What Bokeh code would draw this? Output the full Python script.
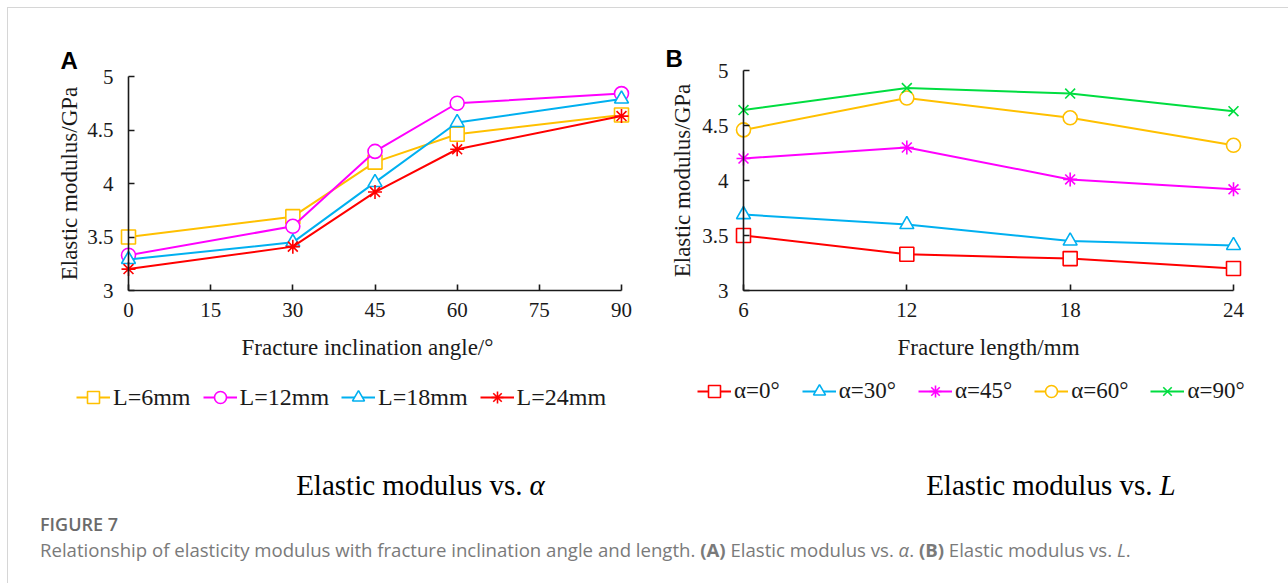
import math
from bokeh.plotting import figure
from bokeh.models import (Range1d, FixedTicker, NumeralTickFormatter, Label, Legend,
                          LegendItem, Div)
from bokeh.layouts import row, column
from bokeh.embed import file_html
from bokeh.resources import INLINE

# ---------------- data ----------------
angles = [0, 30, 45, 60, 90]
angle_ticks = [0, 15, 30, 45, 60, 75, 90]
L6 = [3.50, 3.69, 4.20, 4.46, 4.64]
L12 = [3.33, 3.60, 4.30, 4.75, 4.84]
L18 = [3.29, 3.45, 4.01, 4.57, 4.79]
L24 = [3.20, 3.41, 3.92, 4.32, 4.63]

lengths = [6, 12, 18, 24]
a0 = [3.50, 3.33, 3.29, 3.20]
a30 = [3.69, 3.60, 3.45, 3.41]
a45 = [4.20, 4.30, 4.01, 3.92]
a60 = [4.46, 4.75, 4.57, 4.32]
a90 = [4.64, 4.84, 4.79, 4.63]

modulus_ticks = [3, 3.5, 4, 4.5, 5]

series_A = [("L=6mm", L6, "#FFC000", "square"),
            ("L=12mm", L12, "#FF00FF", "circle"),
            ("L=18mm", L18, "#00B0F0", "triangle"),
            ("L=24mm", L24, "#FF0000", "asterisk")]
series_B = [("α=0°", a0, "#FF0000", "square"),
            ("α=30°", a30, "#00B0F0", "triangle"),
            ("α=45°", a45, "#FF00FF", "asterisk"),
            ("α=60°", a60, "#FFC000", "circle"),
            ("α=90°", a90, "#00DD40", "x")]

SERIF = "Liberation Serif"
SANS = "Liberation Sans"


def make_panel(width, height, l, r, t, b, xlo, xhi, ylo, yhi, xticks):
    # the frame fills the whole canvas; data extents land on pixels l..r, t..b
    kx = (r - l) / (xhi - xlo)
    ky = (b - t) / (yhi - ylo)
    p = figure(width=width, height=height, output_backend="svg", toolbar_location=None,
               title=None,
               x_range=Range1d(xlo - l / kx, xhi + (width - r) / kx),
               y_range=Range1d(ylo - (height - b) / ky, yhi + t / ky),
               min_border=0, min_border_left=0, min_border_right=0,
               min_border_top=0, min_border_bottom=0,
               outline_line_color=None, background_fill_color="white",
               border_fill_color="white", margin=0)
    p.grid.visible = False
    for ax in (p.xaxis[0], p.yaxis[0]):
        ax.axis_line_color = "#1a1a1a"
        ax.axis_line_width = 1.6
        ax.major_tick_line_color = "#1a1a1a"
        ax.major_tick_line_width = 1.6
        ax.major_tick_in = 6
        ax.major_tick_out = 0
        ax.minor_tick_line_color = None
        ax.major_label_text_font = SERIF
        ax.major_label_text_font_size = "21px"
        ax.major_label_text_color = "#1a1a1a"
    p.xaxis.ticker = FixedTicker(ticks=xticks)
    p.yaxis.ticker = FixedTicker(ticks=modulus_ticks)
    p.yaxis.formatter = NumeralTickFormatter(format="0.[0]")
    p.xaxis.fixed_location = ylo
    p.yaxis.fixed_location = xlo
    p.xaxis.bounds = (xlo, xhi)
    p.yaxis.bounds = (ylo, yhi)
    p.xaxis.major_label_standoff = 12
    p.yaxis.major_label_standoff = 15
    return p


def draw_series(p, xs, series):
    items = []
    for name, ys, color, marker in series:
        lr = p.line(xs, ys, line_color=color, line_width=2)
        sr = p.scatter(xs, ys, marker=marker, size=14, line_color=color, line_width=1.6,
                       fill_color="white")
        items.append(LegendItem(label=name, renderers=[lr, sr]))
    return items


def lab(p, ox, oy, h, gx, gy, text, **kw):
    p.add_layout(Label(x=gx - ox, y=h - (gy - oy), x_units="screen", y_units="screen",
                       text=text, **kw))


# ---------------- panel A ----------------
OXA, OYA, WA, HA = 8, 8, 636, 497
pa = make_panel(WA, HA, 128 - OXA, 621 - OXA, 76 - OYA, 290 - OYA, 0, 90, 3, 5, angle_ticks)
items_a = draw_series(pa, angles, series_A)


def lab_a(gx, gy, text, **kw):
    lab(pa, OXA, OYA, HA, gx, gy, text, **kw)


lab_a(60, 60, "A", text_font=SANS, text_font_style="bold", text_font_size="24px",
      text_baseline="alphabetic", text_align="left", text_color="black")
lab_a(69, 183, "Elastic modulus/GPa", angle=math.pi / 2, text_font=SERIF,
      text_font_size="23px", text_align="center", text_baseline="middle", text_color="#1a1a1a")
lab_a(367, 347, "Fracture inclination angle/°", text_font=SERIF, text_font_size="23px",
      text_align="center", text_baseline="middle", text_color="#1a1a1a")
lab_a(522, 484, "Elastic modulus vs.", text_font=SERIF, text_font_size="29px",
      text_align="right", text_baseline="alphabetic", text_color="black")
lab_a(529, 484, "α", text_font=SERIF, text_font_size="29px", text_font_style="italic",
      text_align="left", text_baseline="alphabetic", text_color="black")

leg_a = Legend(items=items_a, orientation="horizontal",
               location=(76 - OXA, HA - (397 + 15 - OYA)),
               glyph_width=34, glyph_height=30, label_height=30, label_standoff=3,
               spacing=12, padding=0, margin=0, border_line_color=None,
               background_fill_alpha=0, label_text_font=SERIF,
               label_text_font_size="24px", label_text_color="#1a1a1a")
pa.add_layout(leg_a)

# ---------------- panel B ----------------
OXB, OYB, WB, HB = 644, 8, 644, 497
pb = make_panel(WB, HB, 743 - OXB, 1233 - OXB, 70 - OYB, 290 - OYB, 6, 24, 3, 5, lengths)
items_b = draw_series(pb, lengths, series_B)


def lab_b(gx, gy, text, **kw):
    lab(pb, OXB, OYB, HB, gx, gy, text, **kw)


lab_b(665, 58, "B", text_font=SANS, text_font_style="bold", text_font_size="24px",
      text_baseline="alphabetic", text_align="left", text_color="black")
lab_b(682, 180, "Elastic modulus/GPa", angle=math.pi / 2, text_font=SERIF,
      text_font_size="23px", text_align="center", text_baseline="middle", text_color="#1a1a1a")
lab_b(988, 347, "Fracture length/mm", text_font=SERIF, text_font_size="23px",
      text_align="center", text_baseline="middle", text_color="#1a1a1a")
lab_b(1152, 484, "Elastic modulus vs.", text_font=SERIF, text_font_size="29px",
      text_align="right", text_baseline="alphabetic", text_color="black")
lab_b(1159, 484, "L", text_font=SERIF, text_font_size="29px", text_font_style="italic",
      text_align="left", text_baseline="alphabetic", text_color="black")

leg_b = Legend(items=items_b, orientation="horizontal",
               location=(697 - OXB, HB - (391 + 15 - OYB)),
               glyph_width=34, glyph_height=30, label_height=30, label_standoff=3,
               spacing=22, padding=0, margin=0, border_line_color=None,
               background_fill_alpha=0, label_text_font=SERIF,
               label_text_font_size="23px", label_text_color="#1a1a1a")
pb.add_layout(leg_b)

# ---------------- caption ----------------
cap_html = (
    '<div style="position:relative;width:1280px;height:78px;font-family:\'Open Sans\';">'
    '<div style="position:absolute;left:32px;top:7px;font-size:18px;line-height:normal;'
    'font-weight:600;color:#6b6b6b;white-space:nowrap;">FIGURE 7</div>'
    '<div style="position:absolute;left:32px;top:32px;font-size:18.6px;line-height:normal;'
    'color:#7a7a7a;white-space:nowrap;">Relationship of elasticity modulus with fracture '
    'inclination angle and length. <b>(A)</b> Elastic modulus vs. <i>α</i>. '
    '<b>(B)</b> Elastic modulus vs. <i>L</i>.</div></div>'
)
cap = Div(text=cap_html, width=1280, height=78, margin=0)

root = column(row(pa, pb, margin=0), cap, margin=(7, 0, 0, 7),
              styles={"border-top": "1px solid #d6d6d6", "border-left": "1px solid #d6d6d6"})

open("out.html", "w").write(file_html(root, INLINE))
